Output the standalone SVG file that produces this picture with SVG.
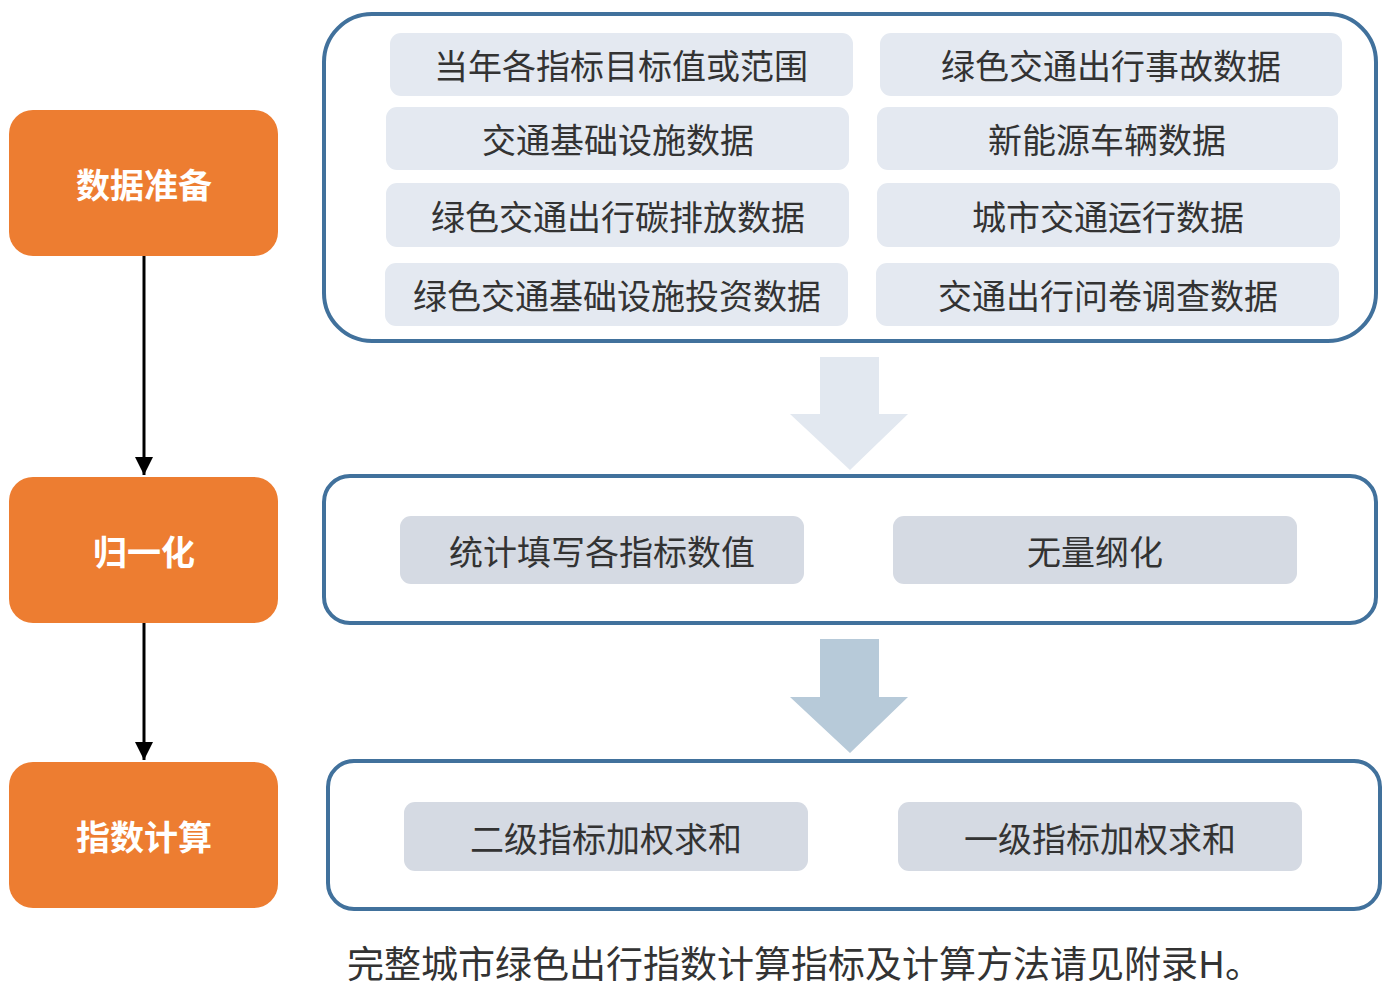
<svg xmlns="http://www.w3.org/2000/svg" width="1400" height="998" viewBox="0 0 1400 998">
<defs>
<marker id="ah" viewBox="0 0 10 10" refX="10" refY="5" markerWidth="18" markerHeight="18" markerUnits="userSpaceOnUse" orient="auto">
<path d="M0,0 L10,5 L0,10 z" fill="#000"/>
</marker>
<style>
.step{fill:#ED7D31}
.steptxt{font-family:"Noto Sans CJK SC","Noto Sans",sans-serif;font-weight:bold;font-size:34px;fill:#fff;text-anchor:middle;dominant-baseline:central}
.cont{fill:#fff;stroke:#41719C;stroke-width:4}
.item1{fill:#E4E9F1}
.item2{fill:#D5DAE3}
.itxt{font-family:"Noto Sans CJK SC","Noto Sans",sans-serif;font-size:34px;fill:#333;text-anchor:middle;dominant-baseline:central}
.note{font-family:"Noto Sans CJK SC","Noto Sans",sans-serif;font-size:37px;fill:#333}
</style>
</defs>
<rect width="1400" height="998" fill="#fff"/>
<g id="connectors">
<line x1="144" y1="256" x2="144" y2="475" stroke="#000" stroke-width="3" marker-end="url(#ah)"/>
<line x1="144" y1="623" x2="144" y2="760" stroke="#000" stroke-width="3" marker-end="url(#ah)"/>
<polygon points="820,357 879,357 879,414 908,414 850,470 790,414 820,414" fill="#E2E8F0"/>
<polygon points="820,639 879,639 879,697 908,697 850,753 790,697 820,697" fill="#B7CAD9"/>
</g>
<g id="step1"><rect class="step" x="9" y="110" width="269" height="146" rx="24"/><text class="steptxt" x="144" y="183">数据准备</text></g>
<g id="step2"><rect class="step" x="9" y="477" width="269" height="146" rx="24"/><text class="steptxt" x="144" y="550">归一化</text></g>
<g id="step3"><rect class="step" x="9" y="762" width="269" height="146" rx="24"/><text class="steptxt" x="144" y="835">指数计算</text></g>
<g id="container1"><rect class="cont" x="324" y="14" width="1052" height="327" rx="48"/></g>
<g id="container2"><rect class="cont" x="324" y="476" width="1052" height="147" rx="26"/></g>
<g id="container3"><rect class="cont" x="328" y="761" width="1052" height="148" rx="26"/></g>
<g id="i1"><rect class="item1" x="390" y="33" width="463" height="63" rx="11"/><text class="itxt" x="621" y="64">当年各指标目标值或范围</text></g>
<g id="i2"><rect class="item1" x="880" y="33" width="462" height="63" rx="11"/><text class="itxt" x="1111" y="64">绿色交通出行事故数据</text></g>
<g id="i3"><rect class="item1" x="386" y="107" width="463" height="63" rx="11"/><text class="itxt" x="618" y="138">交通基础设施数据</text></g>
<g id="i4"><rect class="item1" x="877" y="107" width="461" height="63" rx="11"/><text class="itxt" x="1107" y="138">新能源车辆数据</text></g>
<g id="i5"><rect class="item1" x="386" y="183" width="463" height="64" rx="11"/><text class="itxt" x="618" y="215">绿色交通出行碳排放数据</text></g>
<g id="i6"><rect class="item1" x="877" y="183" width="463" height="64" rx="11"/><text class="itxt" x="1108" y="215">城市交通运行数据</text></g>
<g id="i7"><rect class="item1" x="385" y="263" width="463" height="63" rx="11"/><text class="itxt" x="617" y="294">绿色交通基础设施投资数据</text></g>
<g id="i8"><rect class="item1" x="876" y="263" width="463" height="63" rx="11"/><text class="itxt" x="1108" y="294">交通出行问卷调查数据</text></g>
<g id="n1"><rect class="item2" x="400" y="516" width="404" height="68" rx="11"/><text class="itxt" x="602" y="550">统计填写各指标数值</text></g>
<g id="n2"><rect class="item2" x="893" y="516" width="404" height="68" rx="11"/><text class="itxt" x="1095" y="550">无量纲化</text></g>
<g id="c1"><rect class="item2" x="404" y="802" width="404" height="69" rx="11"/><text class="itxt" x="606" y="837">二级指标加权求和</text></g>
<g id="c2"><rect class="item2" x="898" y="802" width="404" height="69" rx="11"/><text class="itxt" x="1100" y="837">一级指标加权求和</text></g>
<text class="note" x="347" y="978">完整城市绿色出行指数计算指标及计算方法请见附录H。</text>
</svg>
